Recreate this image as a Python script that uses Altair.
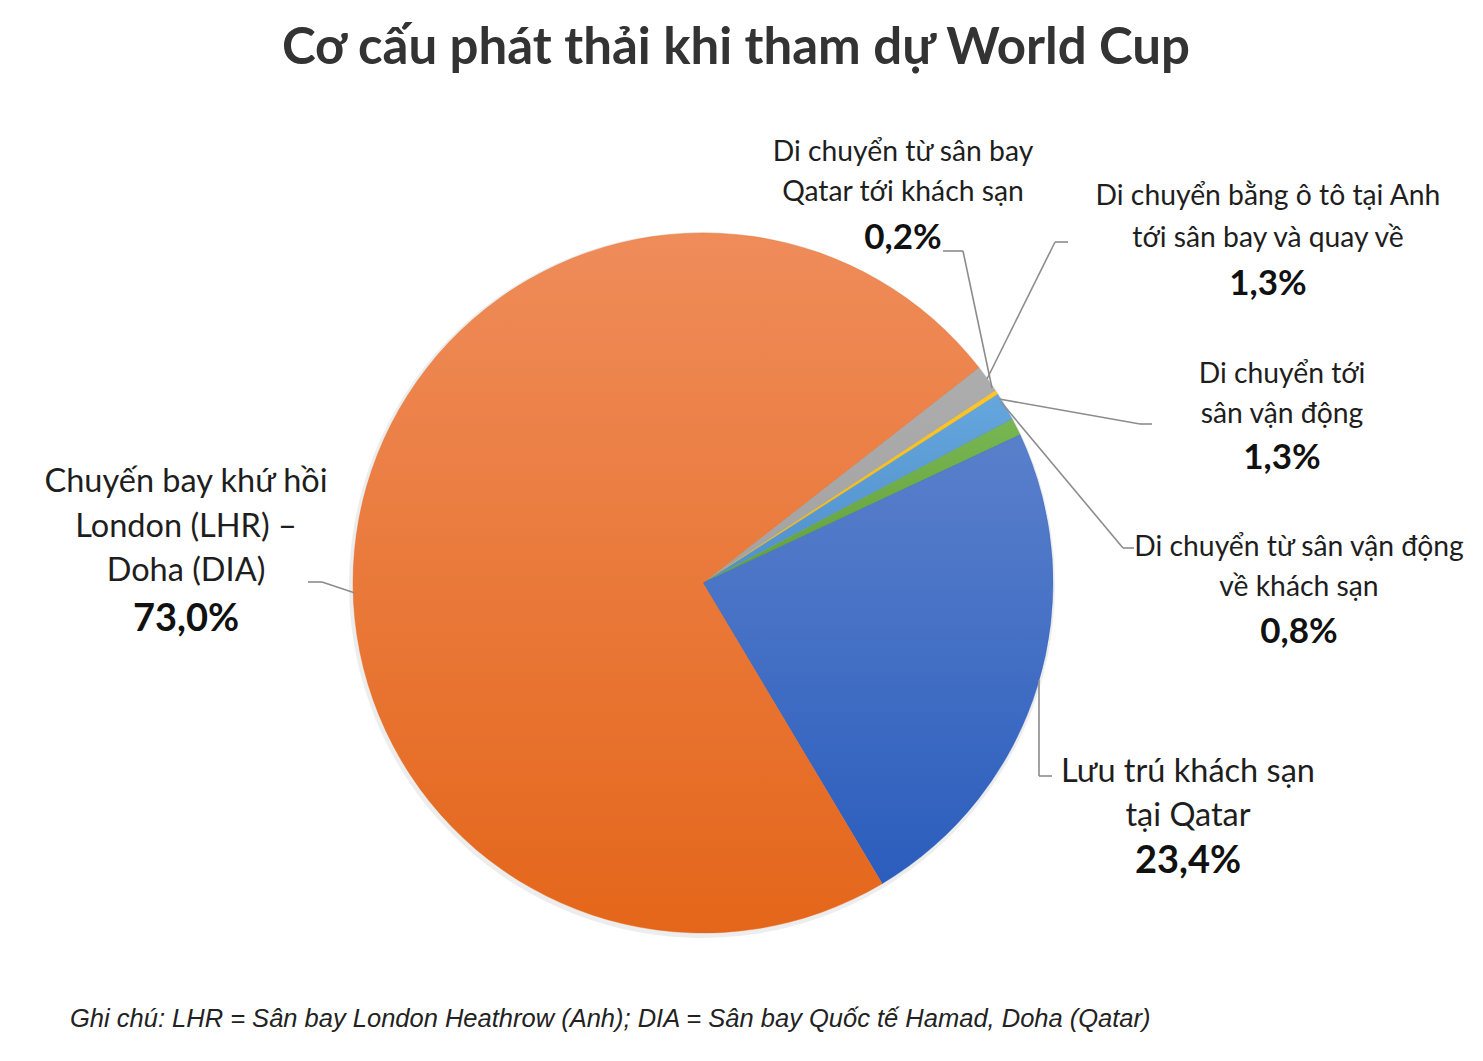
import altair as alt
import pandas as pd

# ---------------- data ----------------
categories = [
    "Di chuyển bằng ô tô tại Anh\ntới sân bay và quay về",
    "Di chuyển từ sân bay\nQatar tới khách sạn",
    "Di chuyển tới\nsân vận động",
    "Di chuyển từ sân vận động\nvề khách sạn",
    "Lưu trú khách sạn\ntại Qatar",
    "Chuyến bay khứ hồi\nLondon (LHR) –\nDoha (DIA)",
]
shares = [1.3, 0.2, 1.3, 0.8, 23.4, 73.0]
title_text = "Cơ cấu phát thải khi tham dự World Cup"
note_text = "Ghi chú: LHR = Sân bay London Heathrow (Anh); DIA = Sân bay Quốc tế Hamad, Doha (Qatar)"

# ---------------- styles / layout ----------------
gradients = [
    ("#ADADAD", "#A2A2A2"),
    ("#FFC52A", "#F5B800"),
    ("#65A6DD", "#4F8FCC"),
    ("#78B651", "#63A03D"),
    ("#5A80CB", "#2B5DBD"),
    ("#EF8C5A", "#E4661A"),
]
OFF = 8  # page margin
CX, CY, R = 703 - OFF, 583 - OFF, 350
START = 0.9076  # radians, clockwise from 12 o'clock

# label layout: (center x, first line y, line height, pct y, font size, pct size) in page px
label_layout = [
    (1268, 197, 42, 284, 28.3, 35),
    (903, 153, 40, 238, 28.3, 35),
    (1282, 375, 40, 458, 28.3, 35),
    (1299, 548, 40, 632, 28.3, 35),
    (1188, 772, 44, 862, 32.5, 38),
    (186, 482, 44.5, 620, 32.5, 38),
]
leaders = [
    [(1068, 242), (1055, 242), (987, 379)],
    [(943, 251), (963, 251), (992, 388)],
    [(1152, 424), (1140, 424), (999, 399)],
    [(1134, 548), (1123, 548), (1001, 402)],
    [(1052, 776), (1039, 776), (1039, 680)],
    [(308, 582), (322, 582), (355, 593)],
]

FONT = "Lato, 'Noto Sans', sans-serif"

df = pd.DataFrame({"idx": list(range(len(shares))), "share": shares})

theta_scale = alt.Scale(domain=[0, 100], range=[START, START + 6.283185307179586])

layers = []

# soft shadow behind pie
shadow = (
    alt.Chart(df)
    .transform_stack(stack="share", as_=["v0", "v1"], groupby=[], sort=[alt.SortField("idx")])
    .mark_arc(outerRadius=R + 3, color="#000000", opacity=0.07, strokeWidth=0)
    .encode(theta=alt.Theta("v0:Q", scale=theta_scale), theta2="v1:Q",
            x=alt.value(CX - 1), y=alt.value(CY + 2))
)
layers.append(shadow)

for i, (top, bot) in enumerate(gradients):
    grad = alt.LinearGradient(
        gradient="linear",
        stops=[alt.GradientStop(color=top, offset=0), alt.GradientStop(color=bot, offset=1)],
        x1=0, x2=0, y1=0, y2=1,
    )
    arc = (
        alt.Chart(df)
        .transform_stack(stack="share", as_=["v0", "v1"], groupby=[], sort=[alt.SortField("idx")])
        .transform_filter(alt.datum.idx == i)
        .mark_arc(outerRadius=R, color=grad, stroke=bot, strokeWidth=0.4)
        .encode(
            theta=alt.Theta("v0:Q", scale=theta_scale),
            theta2="v1:Q",
            x=alt.value(CX),
            y=alt.value(CY),
        )
    )
    layers.append(arc)

# leader lines
seg_rows = []
for poly in leaders:
    for (x1, y1), (x2, y2) in zip(poly[:-1], poly[1:]):
        seg_rows.append({"x": x1 - OFF, "y": y1 - OFF, "x2": x2 - OFF, "y2": y2 - OFF})
seg_df = pd.DataFrame(seg_rows)
leader_layer = alt.Chart(seg_df).mark_rule(color="#8C8C8C", strokeWidth=1.6).encode(
    x=alt.X("x:Q", scale=None), y=alt.Y("y:Q", scale=None),
    x2="x2:Q", y2="y2:Q",
)
layers.append(leader_layer)

# labels
name_rows, pct_rows = [], []
for i, name in enumerate(categories):
    lx, ly, lh, py, fs, ps = label_layout[i]
    for j, line in enumerate(name.split("\n")):
        name_rows.append({"x": lx - OFF, "y": ly + j * lh - OFF, "t": line, "s": fs})
    pct_rows.append({"x": lx - OFF, "y": py - OFF,
                     "t": f"{shares[i]:.1f}".replace(".", ",") + "%", "s": ps})

name_layer = alt.Chart(pd.DataFrame(name_rows)).mark_text(
    font=FONT, color="#1E1E1E", align="center", baseline="middle"
).encode(
    x=alt.X("x:Q", scale=None), y=alt.Y("y:Q", scale=None),
    text="t:N", size=alt.Size("s:Q", scale=None, legend=None),
)
pct_layer = alt.Chart(pd.DataFrame(pct_rows)).mark_text(
    font=FONT, fontWeight="bold", color="#111111", align="center", baseline="middle"
).encode(
    x=alt.X("x:Q", scale=None), y=alt.Y("y:Q", scale=None),
    text="t:N", size=alt.Size("s:Q", scale=None, legend=None),
)
layers += [name_layer, pct_layer]

title_layer = alt.Chart(pd.DataFrame({"t": [title_text]})).mark_text(
    font=FONT, fontWeight="bold", fontSize=51, color="#333333", align="center", baseline="middle"
).encode(x=alt.value(736 - OFF), y=alt.value(49 - OFF), text="t:N")

note_layer = alt.Chart(pd.DataFrame({"t": [note_text]})).mark_text(
    font="Liberation Sans", fontStyle="italic", fontSize=25.5, color="#222222",
    align="left", baseline="middle"
).encode(x=alt.value(70 - OFF), y=alt.value(1019 - OFF), text="t:N")

layers += [title_layer, note_layer]

chart = (
    alt.layer(*layers)
    .properties(width=1460, height=1040, padding=0, autosize=alt.AutoSizeParams(type="none"),
                background="#FFFFFF")
    .configure_view(stroke=None)
)

chart.save("out.html", embed_options={"renderer": "svg", "actions": False})
